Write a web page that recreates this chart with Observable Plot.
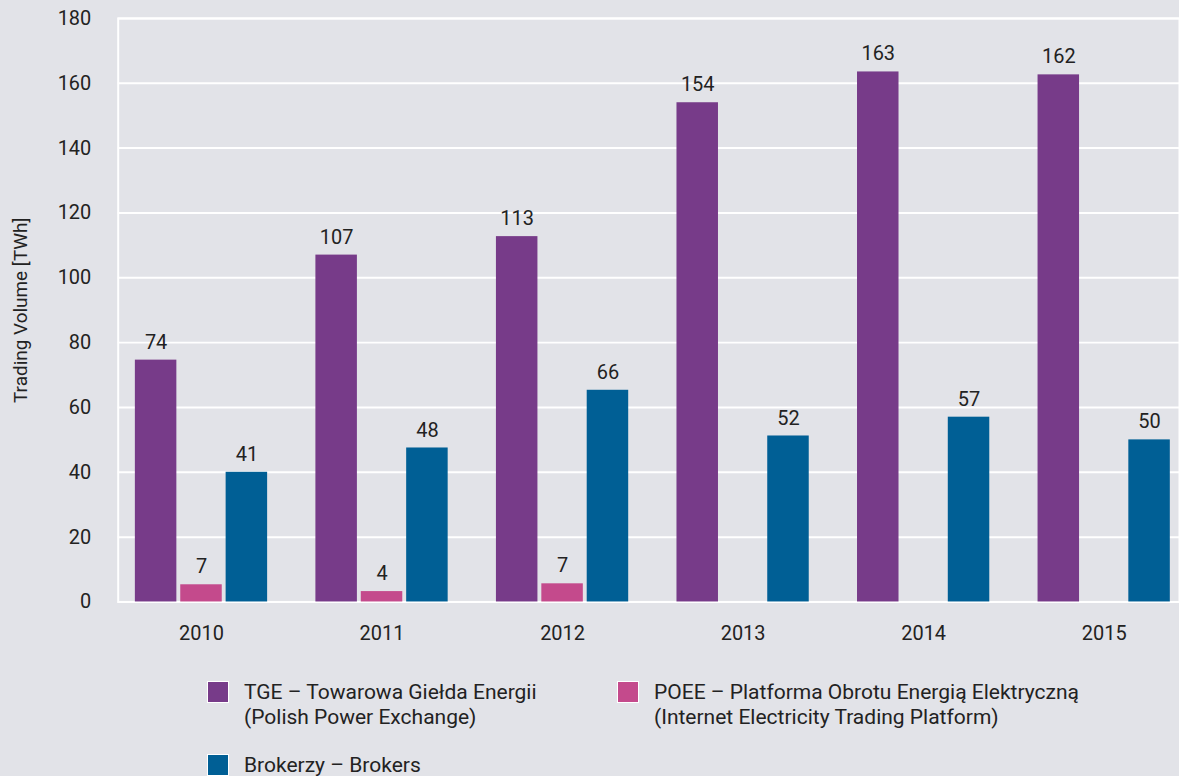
<!DOCTYPE html>
<html>
<head>
<meta charset="utf-8">
<script src="https://cdn.jsdelivr.net/npm/d3@7"></script>
<script src="https://cdn.jsdelivr.net/npm/@observablehq/plot@0.6"></script>
<style>
  html, body { margin: 0; padding: 0; background: #e2e3e8; overflow: hidden; }
  body { width: 1179px; height: 776px; position: relative; font-family: Roboto, "Noto Sans", sans-serif; color: #222; }
  #chart svg { display: block; }
  .legend-item { position: absolute; display: flex; align-items: flex-start; font-size: 21px; line-height: 25px; color: #222; }
  .legend-swatch { width: 20px; height: 20px; border: 1px solid #fff; margin-top: 1px; margin-right: 15px; flex: none; }
</style>
</head>
<body>
<div id="chart"></div>
<div id="legend"></div>
<script>
const years = ["2010", "2011", "2012", "2013", "2014", "2015"];
// bar heights as drawn
const tgeValues = [74.6, 107, 112.7, 154, 163.5, 162.6];
const poeeValues = [5.3, 3.2, 5.6, null, null, null];
const brokerValues = [40, 47.5, 65.3, 51.2, 57, 50];
// labels as printed
const tgeLabels = ["74", "107", "113", "154", "163", "162"];
const poeeLabels = ["7", "4", "7", null, null, null];
const brokerLabels = ["41", "48", "66", "52", "57", "50"];

const seriesNames = [
  ["TGE – Towarowa Giełda Energii", "(Polish Power Exchange)"],
  ["POEE – Platforma Obrotu Energią Elektryczną", "(Internet Electricity Trading Platform)"],
  ["Brokerzy – Brokers"]
];
const colors = ["#773b89", "#c44a8c", "#005f95"];
const yTicks = [0, 20, 40, 60, 80, 100, 120, 140, 160, 180];
const yLabel = "Trading Volume [TWh]";

function rows(values, labels) {
  return years.map((year, i) => ({year, value: values[i], label: labels[i]})).filter(d => d.value != null);
}
const series = [rows(tgeValues, tgeLabels), rows(poeeValues, poeeLabels), rows(brokerValues, brokerLabels)];
const offsets = [-45.5, 0, 45.5];

const marks = [
  Plot.ruleY(yTicks, {stroke: "#fff", strokeWidth: 2}),
  Plot.frame({stroke: "#fff", strokeWidth: 2})
];
series.forEach((data, k) => {
  marks.push(Plot.barY(data, {x: "year", y: "value", fill: colors[k], insetLeft: 69.7, insetRight: 69.7, dx: offsets[k]}));
  marks.push(Plot.text(data, {x: "year", y: "value", text: "label", dx: offsets[k], dy: -11.5, lineAnchor: "bottom", fontSize: 20, fill: "#222"}));
});
marks.push(Plot.text([yLabel], {frameAnchor: "left", textAnchor: "middle", rotate: -90, dx: -98, fontSize: 19, fill: "#222"}));

const chart = Plot.plot({
  width: 1182,
  height: 650,
  marginLeft: 118,
  marginRight: 0,
  marginTop: 18,
  marginBottom: 47,
  style: {background: "transparent", fontFamily: "Roboto, sans-serif", fontSize: "20px", color: "#222", overflow: "visible"},
  x: {type: "band", domain: years, range: [109.5, 1198], padding: 0, tickSize: 0, tickPadding: 24, label: null},
  y: {domain: [0, 180], ticks: yTicks, tickSize: 0, tickPadding: 27, label: null},
  marks
});
document.getElementById("chart").appendChild(chart);

const legendPos = [[207, 680], [617, 680], [207, 753]];
const legend = document.getElementById("legend");
seriesNames.forEach((lines, k) => {
  const item = document.createElement("div");
  item.className = "legend-item";
  item.style.left = legendPos[k][0] + "px";
  item.style.top = legendPos[k][1] + "px";
  const sw = document.createElement("div");
  sw.className = "legend-swatch";
  sw.style.background = colors[k];
  const txt = document.createElement("div");
  txt.innerHTML = lines.join("<br>");
  item.appendChild(sw);
  item.appendChild(txt);
  legend.appendChild(item);
});
</script>
</body>
</html>
